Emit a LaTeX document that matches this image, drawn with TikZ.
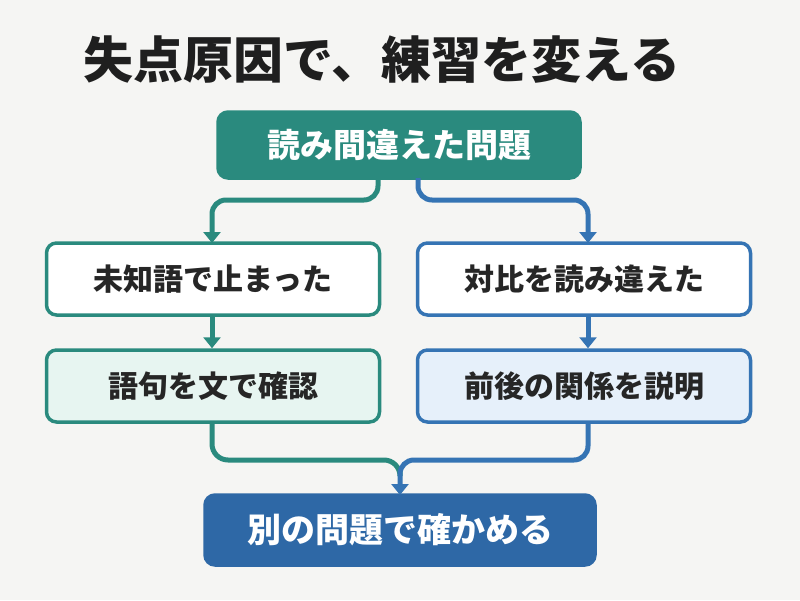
\documentclass[tikz,border=0pt]{standalone}
\usepackage{fontspec}
\newfontfamily\cjk{Noto Sans CJK JP}
\usetikzlibrary{arrows.meta}
\definecolor{teal1}{HTML}{2A8A7E}
\definecolor{blue1}{HTML}{3574B4}
\definecolor{blue2}{HTML}{2E68A6}
\definecolor{lteal}{HTML}{E7F5F1}
\definecolor{lblue}{HTML}{E6F0FA}
\definecolor{bg}{HTML}{F5F5F3}
\begin{document}
\begin{tikzpicture}[x=1pt,y=-1pt,
 box/.style={draw,line width=3.5pt,rounded corners=10pt,minimum width=333pt,minimum height=72pt,font=\cjk\bfseries\fontsize{30}{34}\selectfont,text=black!85},
 con/.style={line width=5pt,rounded corners=14pt,-{Triangle[length=11pt,width=17pt]}}]
\fill[bg] (0,0) rectangle (800,600);
\useasboundingbox (0,0) rectangle (800,600);
\node[anchor=west,font=\cjk\bfseries\fontsize{50}{56}\selectfont,text=black!88] (title) at (80,60) {失点原因で、練習を変える};
\node[box,fill=teal1,draw=teal1,text=white,minimum width=362pt,minimum height=66pt,font=\cjk\bfseries\fontsize{33}{38}\selectfont] (top) at (399,145) {読み間違えた問題};
\node[box,fill=white,draw=teal1] (l1) at (213,279) {未知語で止まった};
\node[box,fill=white,draw=blue1] (r1) at (584,279) {対比を読み違えた};
\node[box,fill=lteal,draw=teal1] (l2) at (213,386) {語句を文で確認};
\node[box,fill=lblue,draw=blue1] (r2) at (584,386) {前後の関係を説明};
\node[box,fill=blue2,draw=blue2,text=white,minimum width=390pt,minimum height=70pt,font=\cjk\bfseries\fontsize{34}{40}\selectfont] (bot) at (400,530) {別の問題で確かめる};
\coordinate (a) at (378,178);
\coordinate (b) at (418,178);
\coordinate (j) at (400,495);
\draw[con,teal1] (a) -- (378,200) -- (212,200) -- (212,243);
\draw[con,blue1] (b) -- (418,200) -- (588,200) -- (588,243);
\draw[con,teal1] (l1.south -| 212,0) -- (l2.north -| 212,0);
\draw[con,blue1] (r1.south -| 588,0) -- (r2.north -| 588,0);
\draw[line width=5pt,teal1,rounded corners=16pt] (l2.south -| 212,0) -- (212,460) -- (400,460) -- (400,470);
\draw[con,blue1] (r2.south -| 588,0) -- (588,460) -- (400,460) -- (j);
\end{tikzpicture}
\end{document}
